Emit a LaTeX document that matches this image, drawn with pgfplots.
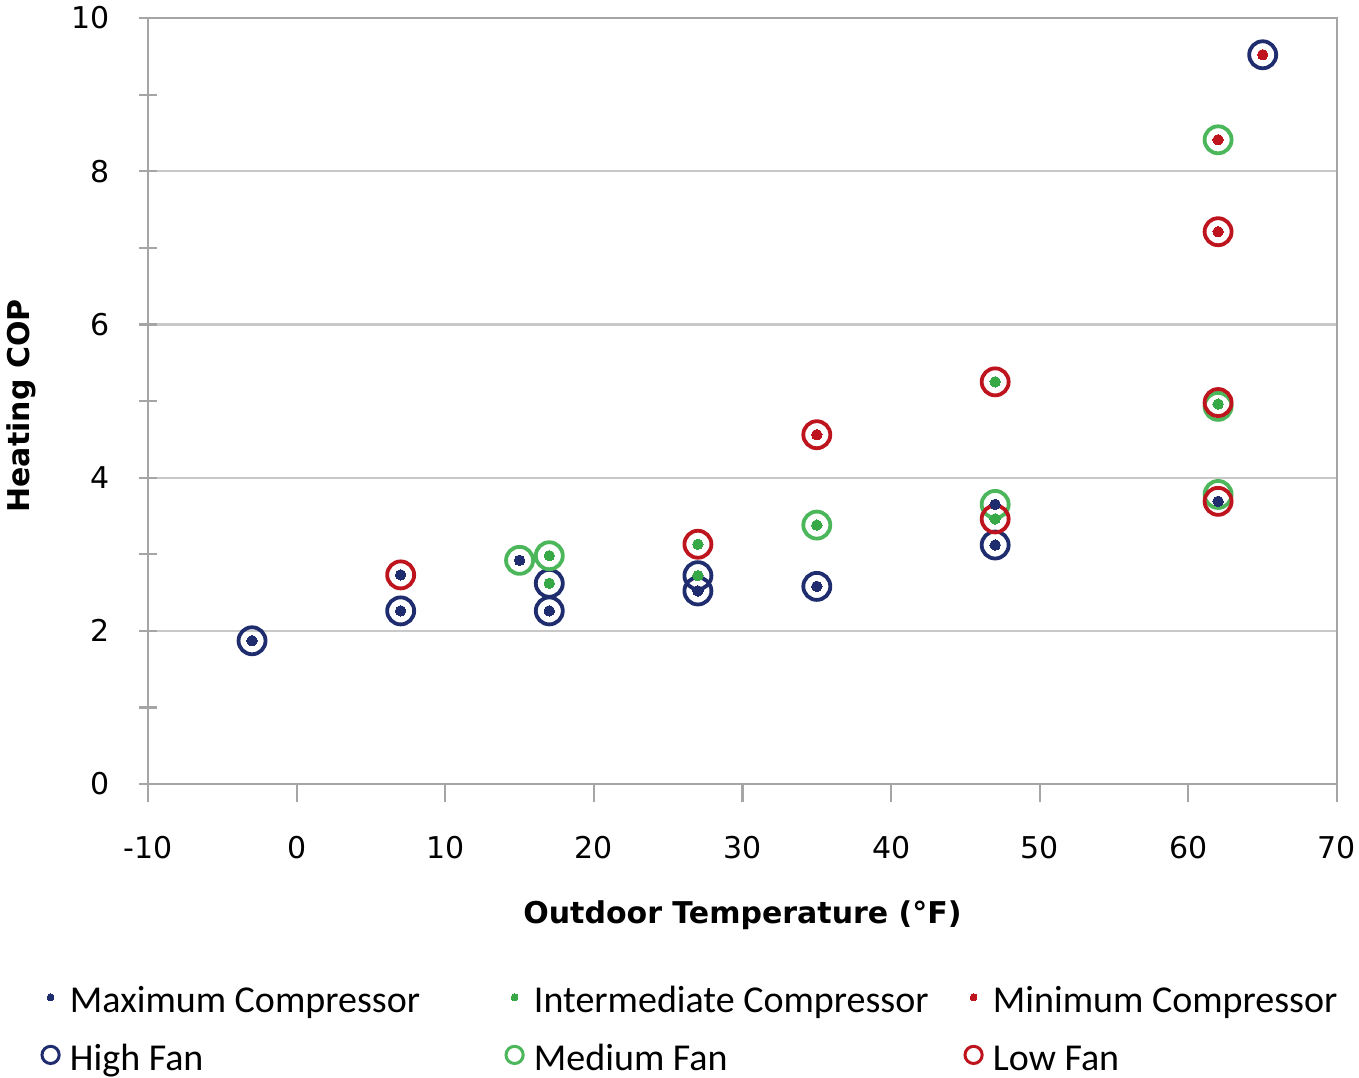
\documentclass[border=0pt]{standalone}
\usepackage{fontspec}
\setmainfont{DejaVu Sans}
\newfontfamily\carlito{Carlito}
\usepackage{pgfplots}
\pgfplotsset{compat=1.18}
\usepackage{pgfplotstable}
\definecolor{navyC}{RGB}{31,45,110}
\definecolor{greenC}{RGB}{75,182,90}
\definecolor{greenD}{RGB}{55,168,70}
\definecolor{redC}{RGB}{190,20,30}
\definecolor{gridC}{RGB}{200,200,200}
\definecolor{axC}{RGB}{165,165,165}

\pgfplotstableread{
x y
-3 1.87
7 2.26
17 2.62
17 2.26
27 2.72
27 2.52
35 2.58
47 3.12
65 9.52
}\ringHigh
\pgfplotstableread{
x y
15 2.92
17 2.98
35 3.38
47 3.65
62 8.41
62 4.93
62 3.78
}\ringMed
\pgfplotstableread{
x y
7 2.73
27 3.13
35 4.56
47 5.25
47 3.46
62 7.21
62 4.98
62 3.69
}\ringLow
\pgfplotstableread{
x y
-3 1.87
7 2.73
7 2.26
15 2.92
17 2.26
27 2.52
35 2.58
47 3.65
47 3.12
62 3.69
}\dotMax
\pgfplotstableread{
x y
17 2.98
17 2.62
27 3.13
27 2.72
35 3.38
47 5.25
47 3.46
62 4.96
}\dotInt
\pgfplotstableread{
x y
35 4.56
62 8.41
62 7.21
65 9.52
}\dotMin

\pgfplotsset{
  dotstyle/.style={only marks, mark=*, mark size=2.6pt, color=#1,
    mark options={draw=#1, fill=#1, line width=0pt},
    legend image code/.code={\draw[only marks, mark=*, mark size=1.7pt, mark options={draw=#1, fill=#1, line width=0pt}] plot coordinates {(0cm,0cm)};}},
  ringstyle/.style={only marks, mark=o, mark size=6.75pt, color=#1,
    mark options={draw=#1, line width=1.9pt},
    legend image code/.code={\draw[only marks, mark=o, mark size=4.3pt, mark options={draw=#1, line width=1.5pt}] plot coordinates {(0cm,0cm)};}},
}

\begin{document}
\begin{tikzpicture}
\useasboundingbox (-74pt,-146.5pt) rectangle (605.5pt,392pt);
\begin{axis}[
  at={(0pt,0pt)}, anchor=south west,
  scale only axis, width=594.5pt, height=383pt,
  xmin=-10, xmax=70, ymin=0, ymax=10,
  xtick={-10,0,...,70}, ytick={0,2,...,10}, minor ytick={1,3,...,9},
  ymajorgrids, major grid style={draw=gridC, line width=1.1pt},
  axis line style={draw=axC, line width=1.3pt},
  xtick align=outside, ytick align=center,
  major tick length=9pt, minor tick length=9pt,
  every tick/.style={draw=axC, line width=1.1pt},
  minor tick style={draw=axC, line width=1.1pt},
  tick pos=left,
  /pgf/number format/assume math mode=true,
  tick label style={font=\fontsize{15}{18}\selectfont},
  yticklabel style={anchor=east, inner sep=0pt, xshift=-14.5pt},
  xticklabel style={anchor=north, inner sep=0pt, yshift=-17pt},
  xlabel={\bfseries Outdoor Temperature (°F)},
  ylabel={\bfseries Heating COP},
  label style={font=\fontsize{15}{18}\selectfont},
  xlabel style={at={([yshift=-69.5pt]axis description cs:0.5,0)}, anchor=base},
  ylabel style={at={([xshift=-59pt,yshift=-2.5pt]axis description cs:0,0.5)}, anchor=base, rotate=0},
  legend columns=3,
  legend style={at={([xshift=-53pt,yshift=-97.5pt]axis description cs:0,0)}, anchor=north west,
    draw=none, fill=none, inner sep=0pt, outer sep=0pt,
    font=\carlito\fontsize{19}{24}\selectfont,
    nodes={inner sep=0pt},
    column sep=0pt, row sep=10.5pt,
    /tikz/every odd column/.style={column sep=5.4pt}},
  legend cell align=left,
]
% compressor dots (legend entries)
\addplot[dotstyle=navyC] table {\dotMax};
\addlegendentry{\makebox[218pt][l]{\strut Maximum Compressor}}
\addplot[dotstyle=greenD] table {\dotInt};
\addlegendentry{\makebox[215.5pt][l]{\strut Intermediate Compressor}}
\addplot[dotstyle=redC] table {\dotMin};
\addlegendentry{\strut Minimum Compressor}
% fan rings
\addplot[ringstyle=navyC] table {\ringHigh};
\addlegendentry{\strut High Fan}
\addplot[ringstyle=greenC] table {\ringMed};
\addlegendentry{\strut Medium Fan}
\addplot[ringstyle=redC] table {\ringLow};
\addlegendentry{\strut Low Fan}
% dots again on top of rings
\addplot[dotstyle=navyC, forget plot] table {\dotMax};
\addplot[dotstyle=greenD, forget plot] table {\dotInt};
\addplot[dotstyle=redC, forget plot] table {\dotMin};
\end{axis}
\end{tikzpicture}
\end{document}
